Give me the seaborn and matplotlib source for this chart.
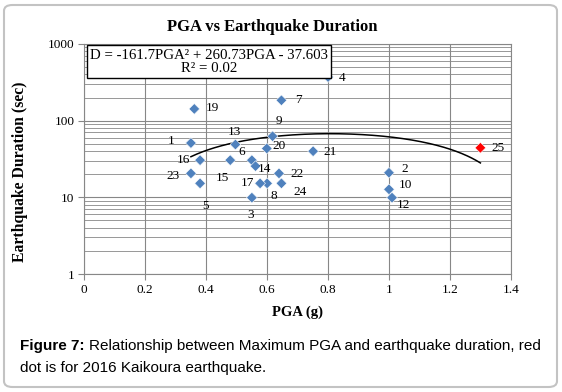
import matplotlib
matplotlib.use("Agg")
import matplotlib.pyplot as plt
from matplotlib.patches import FancyBboxPatch
from matplotlib.ticker import LogLocator, FixedLocator, FuncFormatter, NullFormatter
import numpy as np
import pandas as pd
import seaborn as sns

# Data
event_id = [1, 2, 3, 4, 5, 6, 7, 8, 9, 10, 11, 12, 13, 14, 15, 16, 17, 18, 19, 20, 21, 22, 23, 24, 25]
pga = [0.35, 1.00, 0.55, 0.80, 0.38, 0.55, 0.647, 0.60, 0.618, 1.00, None, 1.01, 0.496, 0.562, 0.479,
       0.38, 0.577, None, 0.361, 0.599, 0.751, 0.639, 0.35, 0.647, 1.30]
duration = [51, 20.9, 9.9, 370, 15.2, 30.5, 184, 15.2, 62.5, 12.7, None, 9.9, 48.8, 25.5, 30.5,
            30.5, 15.2, None, 142, 43.3, 39.9, 20.5, 20.5, 15.2, 44.2]
highlight_id = 25  # 2016 Kaikoura earthquake

# trendline coefficients as printed on the chart
trend_coef = [-161.7, 260.73, -37.603]

df = pd.DataFrame({"id": event_id, "PGA": pga, "Duration": duration}).dropna()
df["id"] = df["id"].astype(int)
df["group"] = np.where(df["id"] == highlight_id, "Kaikoura", "Other")

# label offsets in pixels (dx, dy with y up)
label_offsets = {
    1: (-20, 2), 2: (16, 4), 3: (-1, -17), 4: (14, -1), 5: (5, -23), 6: (-10, 8), 7: (17, 0),
    8: (7, -13), 9: (6, 15), 10: (16, 4), 12: (11, -7), 13: (-1, 13), 14: (9, -3), 15: (-8, -18),
    16: (-17, 0), 17: (-13, 0), 19: (18, 1), 20: (12, 2), 21: (17, -1), 22: (18, -1), 23: (-18, -3),
    24: (19, -9), 25: (18, 0),
}

serif = ["Liberation Serif", "DejaVu Serif"]
plt.rcParams["font.family"] = serif

fig = plt.figure(figsize=(5.62, 3.92), dpi=100)
ax = fig.add_axes([0.150, 0.301, 0.759, 0.587])

grid_col = "#878787"

# trend curve
xs = np.linspace(df["PGA"].min(), df["PGA"].max(), 200)
trend = pd.DataFrame({"PGA": xs, "Duration": np.polyval(trend_coef, xs)})
sns.lineplot(data=trend, x="PGA", y="Duration", ax=ax, color="black", lw=1.1, zorder=3)

sns.scatterplot(data=df, x="PGA", y="Duration", hue="group",
                palette={"Other": "#4f81bd", "Kaikoura": "#ff0000"},
                marker="D", s=30, linewidth=0.4, edgecolor="#ffffff", ax=ax,
                legend=False, zorder=4)

for _, r in df.iterrows():
    dx, dy = label_offsets.get(r["id"], (12, 0))
    ax.annotate(str(r["id"]), (r["PGA"], r["Duration"]), xytext=(dx, dy),
                textcoords="offset pixels", ha="center", va="center",
                fontsize=9.5, color="black", zorder=5)

ax.set_yscale("log")
ax.set_xlim(0, 1.4)
ax.set_ylim(1, 1000)
ax.xaxis.set_major_locator(FixedLocator([0, 0.2, 0.4, 0.6, 0.8, 1.0, 1.2, 1.4]))
ax.xaxis.set_major_formatter(FuncFormatter(lambda v, p: f"{v:g}"))
ax.yaxis.set_major_locator(FixedLocator([1, 10, 100, 1000]))
ax.yaxis.set_major_formatter(FuncFormatter(lambda v, p: f"{v:g}"))
ax.yaxis.set_minor_locator(LogLocator(base=10, subs=np.arange(2, 10)))
ax.yaxis.set_minor_formatter(NullFormatter())

ax.grid(True, which="major", axis="both", color=grid_col, lw=0.8)
ax.grid(True, which="minor", axis="y", color=grid_col, lw=0.6)
ax.set_axisbelow(True)
for s in ax.spines.values():
    s.set_color(grid_col)
    s.set_linewidth(0.8)
ax.tick_params(axis="both", which="major", length=4, color=grid_col, labelsize=9.5, pad=3)
ax.tick_params(axis="y", which="minor", length=0)

ax.set_xlabel("PGA (g)", fontsize=10.5, fontweight="bold", labelpad=7)
ax.set_ylabel("Earthquake Duration (sec)", fontsize=11.3, fontweight="bold")
ax.yaxis.set_label_coords(-0.132, 0.446)

fig.text(0.484, 0.93, "PGA vs Earthquake Duration", ha="center", va="center",
         fontsize=12, fontweight="bold")

ax.text(0.292, 0.922, "D = -161.7PGA\u00b2 + 260.73PGA - 37.603\nR\u00b2 = 0.02",
        transform=ax.transAxes, ha="center", va="center", multialignment="center",
        fontsize=10.7, linespacing=1.05, zorder=6,
        bbox=dict(boxstyle="square,pad=0.22", facecolor="white", edgecolor="black", lw=1))

# outer rounded frame
frame = FancyBboxPatch((4 / 562, 5 / 392), 553 / 562, 382 / 392,
                       boxstyle="round,pad=0,rounding_size=0.015",
                       transform=fig.transFigure, facecolor="none",
                       edgecolor="#c3c3c3", lw=1.5)
fig.patches.append(frame)

# caption
sans = ["Liberation Sans", "DejaVu Sans"]
cap1 = fig.text(20.5 / 562, 1 - 346 / 392, "Figure 7:", family=sans, fontweight="bold",
                fontsize=11, va="center", ha="left")
fig.canvas.draw()
bb = cap1.get_window_extent(renderer=fig.canvas.get_renderer())
fig.text((bb.x1 + 4) / 562, 1 - 346 / 392,
         "Relationship between Maximum PGA and earthquake duration, red",
         family=sans, fontsize=11, va="center", ha="left")
fig.text(20.5 / 562, 1 - 368 / 392, "dot is for 2016 Kaikoura earthquake.",
         family=sans, fontsize=11, va="center", ha="left")

fig.savefig("out.png", dpi=100)
